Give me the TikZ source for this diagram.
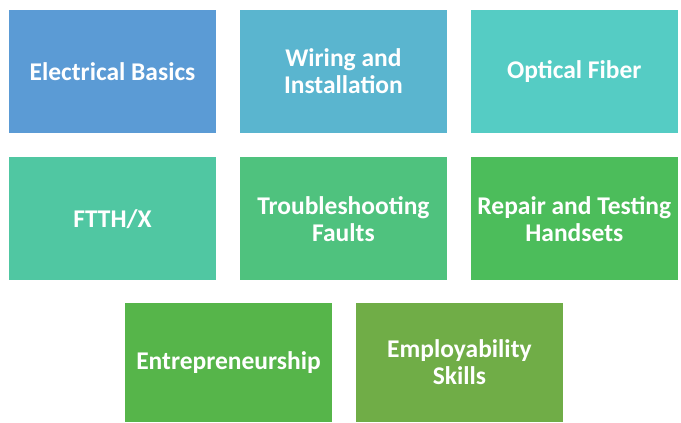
\documentclass[tikz,border=0pt]{standalone}
\usepackage{fontspec}
\setmainfont{Carlito}
\usetikzlibrary{positioning}

\definecolor{boxA}{HTML}{5B9BD5}
\definecolor{boxB}{HTML}{5AB5CF}
\definecolor{boxC}{HTML}{55CCC4}
\definecolor{boxD}{HTML}{50C7A2}
\definecolor{boxE}{HTML}{4FC27E}
\definecolor{boxF}{HTML}{4CBD5B}
\definecolor{boxG}{HTML}{56B54A}
\definecolor{boxH}{HTML}{70AD47}

\tikzset{
  topic/.style={minimum width=207pt, minimum height=123pt, inner sep=0pt,
    text=white, align=center, font=\fontsize{25.5}{27}\selectfont\bfseries},
  lowtopic/.style={topic, minimum height=119pt},
}

\begin{document}
\begin{tikzpicture}[x=1pt,y=1pt,node distance=24pt and 23.5pt]
    %\draw[help lines] (0,0) grid (681,423);
       \useasboundingbox (0,0) rectangle (681,423);
       % first row
       \node[topic,fill=boxA] (basics) at (112.5,351.5) {Electrical Basics};
       \node[topic,fill=boxB,right=of basics] (wiring) {Wiring and\\Installation};
       \node[topic,fill=boxC,right=of wiring] (fiber) {Optical Fiber};
       % second row
       \node[topic,fill=boxD,below=of basics] (ftth) {FTTH/X};
       \node[topic,fill=boxE,below=of wiring] (faults) {Troubleshooting\\Faults};
       \node[topic,fill=boxF,below=of fiber] (repair) {Repair and Testing\\Handsets};
       % last row
       \node[lowtopic,fill=boxG] (entre) at (228.5,60.5) {Entrepreneurship};
       \node[lowtopic,fill=boxH,right=of entre] (employ) {Employability\\Skills};
\end{tikzpicture}
\end{document}
